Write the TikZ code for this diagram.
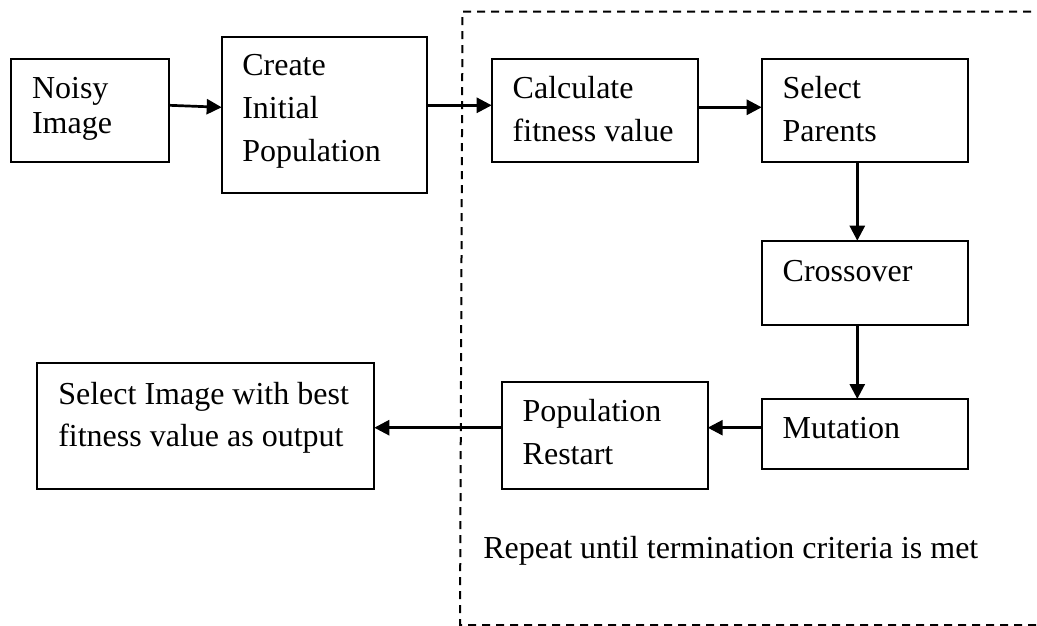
\documentclass[tikz,border=0pt]{standalone}
\usepackage{fontspec}
\setmainfont{Liberation Serif}
\usetikzlibrary{arrows.meta}
\newcommand\mylines[1]{\begin{tabular}[t]{@{}l@{}}#1\end{tabular}}
\tikzset{
  box/.style={draw, line width=2pt, anchor=north west, inner sep=0pt, outer sep=0pt},
  lbl/.style={anchor=base west, inner sep=0pt, outer sep=0pt, font=\fontsize{32}{42.7}\selectfont},
  tight/.style={font=\fontsize{32}{34.3}\selectfont},
  arr/.style={line width=2.7pt, -{Triangle[length=15pt,width=15pt]}},
  frame/.style={line width=2pt, dash pattern=on 8pt off 6pt},
}
\begin{document}
\begin{tikzpicture}[x=1pt,y=-1pt]
\useasboundingbox (0,0) rectangle (1037,626);
% dashed frame (open on the right)
\draw[frame] (1050,625) -- (460,625) -- (462.5,11.7) -- (1050,11.7);
% boxes
\node[box, minimum width=158.3pt, minimum height=102.4pt] (noisy)  at (11,59.3) {};
\node[box, minimum width=205.6pt, minimum height=155.4pt] (create) at (221.7,37.3) {};
\node[box, minimum width=206pt,   minimum height=102.4pt] (calc)   at (491.7,59.3) {};
\node[box, minimum width=206pt,   minimum height=102.4pt] (select) at (761.7,59.3) {};
\node[box, minimum width=206pt,   minimum height=84.6pt]  (cross)  at (761.7,240.7) {};
\node[box, minimum width=206pt,   minimum height=70.3pt]  (mut)    at (761.7,399) {};
\node[box, minimum width=206pt,   minimum height=107.6pt] (pop)    at (501.7,381.7) {};
\node[box, minimum width=337.6pt, minimum height=125.7pt] (out)    at (36.7,363.3) {};
% texts
\node[lbl, tight] (noisyT)  at (32,99)      {\mylines{Noisy\\Image}};
\node[lbl] (createT) at (242.3,76)    {\mylines{Create\\Initial\\Population}};
\node[lbl] (calcT)   at (512.7,99)    {\mylines{Calculate\\fitness value}};
\node[lbl] (selectT) at (782.7,99)    {\mylines{Select\\Parents}};
\node[lbl] (crossT)  at (782.7,281)   {Crossover};
\node[lbl] (mutT)    at (782.7,438.3) {Mutation};
\node[lbl] (popT)    at (522.7,421.7) {\mylines{Population\\Restart}};
\node[lbl] (outT)    at (58.3,404)    {\mylines{Select Image with best\\fitness value as output}};
\node[lbl] (repeatT) at (483.3,558.3) {Repeat until termination criteria is met};
% connectors
\draw[arr] (noisy.east |- 0,105.3) -- (create.west |- 0,107.3);
\draw[arr] (create.east |- 0,105.3) -- (calc.west |- 0,105.3);
\draw[arr] (calc.east |- 0,107.3) -- (select.west |- 0,107.3);
\draw[arr] (select.south -| 857.3,0) -- (cross.north -| 857.3,0);
\draw[arr] (cross.south -| 857.3,0) -- (mut.north -| 857.3,0);
\draw[arr] (mut.west |- 0,427.7) -- (pop.east |- 0,427.7);
\draw[arr] (pop.west |- 0,427.7) -- (out.east |- 0,427.7);
\end{tikzpicture}
\end{document}
